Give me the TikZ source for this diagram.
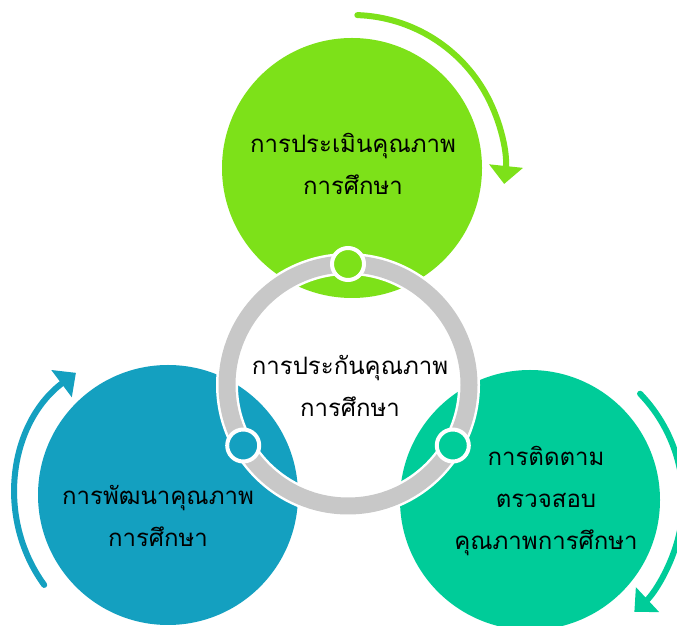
\documentclass[tikz,border=0pt]{standalone}
\usepackage{fontspec}
\usepackage{tikz}
\usetikzlibrary{arrows.meta,calc}
\newfontfamily\thaifont[Script=Thai]{Loma}
\definecolor{evalgreen}{RGB}{125,225,25}
\definecolor{devblue}{RGB}{20,160,192}
\definecolor{trackteal}{RGB}{0,204,153}
\definecolor{ringgray}{RGB}{200,200,200}

\tikzset{
  joint/.style={draw=white, line width=4pt},
  cyclearrow/.style={line width=6pt, line cap=round, -{Triangle[width=33pt,length=18pt]}},
  thaitext/.style={font=\thaifont\fontsize{24}{42}\selectfont, align=center, text=black}
}

\begin{document}
\begin{tikzpicture}[x=1pt,y=1pt]
\useasboundingbox (0,0) rectangle (677,626);

\coordinate (evalc) at (352,458);
\coordinate (devc) at (168,131);
\coordinate (trackc) at (530,126);
\coordinate (ring) at (348,241);

% three big discs
\fill[evalgreen] (evalc) circle (130pt);
\fill[devblue] (devc) circle (130pt);
\fill[trackteal] (trackc) circle (130pt);

% arrows round the discs
\draw[evalgreen, cyclearrow] ($(evalc)+(88:153pt)$) arc[start angle=88, end angle=-6, radius=153pt];
\draw[devblue, cyclearrow] ($(devc)+(216:153pt)$) arc[start angle=216, end angle=127, radius=153pt];
\draw[trackteal, cyclearrow] ($(trackc)+(44:153pt)$) arc[start angle=44, end angle=-47, radius=153pt];

% centre ring
\draw[white, line width=22pt] (ring) circle (121pt);
\draw[ringgray, line width=17pt] (ring) circle (121pt);
\filldraw[fill=evalgreen, joint] ($(ring)+(90:121pt)$) circle (16pt);
\filldraw[fill=devblue, joint] ($(ring)+(210:121pt)$) circle (16pt);
\filldraw[fill=trackteal, joint] ($(ring)+(330:121pt)$) circle (16pt);

\node[thaitext] (evaltext) at (353,462) {การประเมินคุณภาพ\\การศึกษา};
\node[thaitext] (coretext) at (350,240) {การประกันคุณภาพ\\การศึกษา};
\node[thaitext] (devtext) at (158,110) {การพัฒนาคุณภาพ\\การศึกษา};
\node[thaitext] (tracktext) at (546,125) {การติดตาม\\ตรวจสอบ\\คุณภาพการศึกษา};

\end{tikzpicture}
\end{document}
